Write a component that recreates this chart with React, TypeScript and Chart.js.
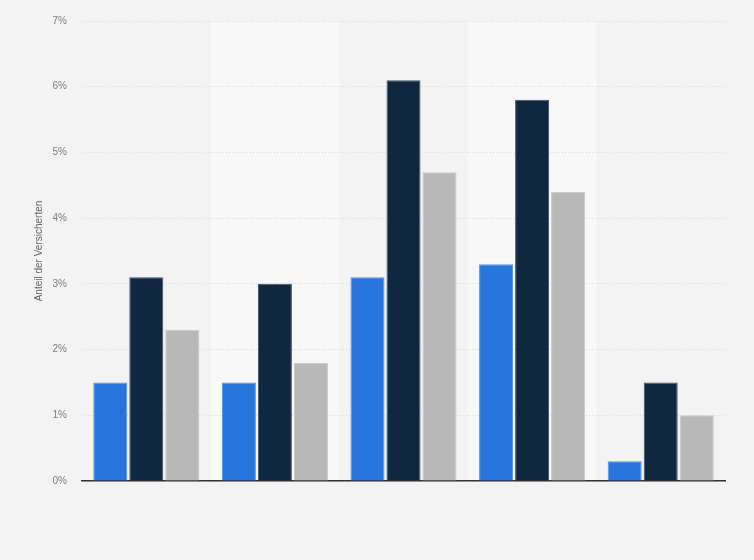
import React, { useEffect, useRef } from "react";
import { Chart, registerables } from "chart.js";

Chart.register(...registerables);

const categories = ["A", "B", "C", "D", "E"];
const seriesBlue = [1.5, 1.5, 3.1, 3.3, 0.3];
const seriesDark = [3.1, 3.0, 6.1, 5.8, 1.5];
const seriesGray = [2.3, 1.8, 4.7, 4.4, 1.0];
const yTicks = [0, 1, 2, 3, 4, 5, 6, 7];
const yTitle = "Anteil der Versicherten";

const bandPlugin = {
  id: "bands",
  beforeDraw(chart: any) {
    const { ctx, chartArea } = chart;
    ctx.save();
    ctx.fillStyle = "#f3f3f3";
    ctx.fillRect(0, 0, chart.width, chart.height);
    const n = categories.length;
    const w = (chartArea.right - chartArea.left) / n;
    ctx.fillStyle = "#f8f8f8";
    for (let i = 1; i < n; i += 2) {
      ctx.fillRect(chartArea.left + i * w, chartArea.top, w, chartArea.bottom - chartArea.top);
    }
    ctx.restore();
  },
};

export default function App() {
  const ref = useRef<HTMLCanvasElement | null>(null);
  useEffect(() => {
    document.body.style.margin = "0";
    const canvas = ref.current!;
    const chart = new Chart(canvas, {
      type: "bar",
      data: {
        labels: categories,
        datasets: [
          { data: seriesBlue, backgroundColor: "#2876dd", borderColor: "#5391e4", borderWidth: 1 },
          { data: seriesDark, backgroundColor: "#0f2840", borderColor: "#3f5366", borderWidth: 1 },
          { data: seriesGray, backgroundColor: "#b8b8b8", borderColor: "#c6c6c6", borderWidth: 1 },
        ],
      },
      options: {
        animation: false,
        responsive: false,
        maintainAspectRatio: false,
        layout: { padding: { top: 20, right: 29, bottom: 79, left: 0 } },
        datasets: { bar: { categoryPercentage: 0.84, barPercentage: 0.945 } },
        plugins: { legend: { display: false }, tooltip: { enabled: false } },
        scales: {
          x: {
            ticks: { display: false },
            grid: { display: false, drawTicks: false },
            border: { display: true, color: "#333333", width: 1.5 },
            afterFit: (s: any) => { s.height = 0; },
          },
          y: {
            min: 0,
            max: 7,
            afterBuildTicks: (s: any) => { s.ticks = yTicks.map((v) => ({ value: v })); },
            ticks: {
              padding: 15,
              color: "#808080",
              font: { family: "Liberation Sans, Arial, sans-serif", size: 10 },
              callback: (v: any) => v + "%",
            },
            grid: { color: "#d8d8d8", drawTicks: false, lineWidth: 1 },
            border: { display: false, dash: [1, 2] },
            title: {
              display: true,
              text: yTitle,
              color: "#666666",
              font: { family: "Liberation Sans, Arial, sans-serif", size: 10 },
              padding: { top: 33, bottom: 0 },
            },
            afterFit: (s: any) => { s.width = 82; },
          },
        },
      },
      plugins: [bandPlugin],
    });
    return () => chart.destroy();
  }, []);
  return <canvas ref={ref} width={754} height={560} style={{ display: "block" }} />;
}
